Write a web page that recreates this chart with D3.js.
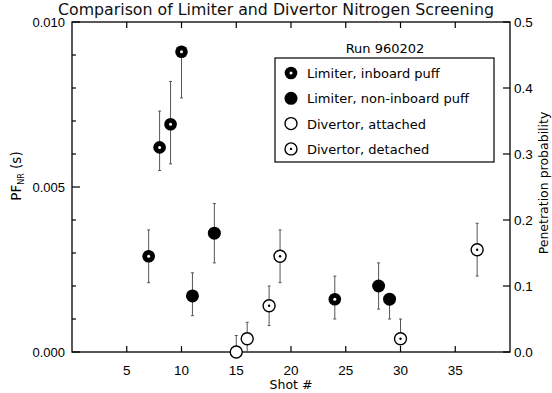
<!DOCTYPE html>
<html><head><meta charset="utf-8">
<script src="https://cdn.jsdelivr.net/npm/d3@7"></script>
<style>
body{margin:0;background:#fff;}
svg{font-family:"Liberation Sans",Arial,sans-serif;}
.lbl{font-family:"DejaVu Sans",sans-serif;}
</style></head>
<body><div id="chart"></div>
<script>
// values (left axis units, seconds)
const inboardShots=[7,8,9,10,24];
const inboardVal=[0.0029,0.0062,0.0069,0.0091,0.0016];
const inboardLo=[0.0021,0.0055,0.0057,0.0077,0.0010];
const inboardHi=[0.0037,0.0073,0.0082,0.0092,0.0023];

const nonInboardShots=[11,13,28,29];
const nonInboardVal=[0.0017,0.0036,0.0020,0.0016];
const nonInboardLo=[0.0011,0.0027,0.0013,0.0010];
const nonInboardHi=[0.0024,0.0045,0.0027,0.0017];

const attachedShots=[15,16];
const attachedVal=[0.0000,0.0004];
const attachedLo=[0.0000,0.0000];
const attachedHi=[0.0005,0.0009];

const detachedShots=[18,19,30,37];
const detachedVal=[0.0014,0.0029,0.0004,0.0031];
const detachedLo=[0.0008,0.0021,0.0003,0.0023];
const detachedHi=[0.0020,0.0037,0.0010,0.0039];

const xTicks=[5,10,15,20,25,30,35];
const yTicksMajor=[0,0.005,0.010];
const yTicksMinor=[0.001,0.002,0.003,0.004,0.006,0.007,0.008,0.009];
const rTicks=[0,0.1,0.2,0.3,0.4,0.5];

const series=[
  {name:'Limiter, inboard puff',kind:'inboard',shots:inboardShots,val:inboardVal,lo:inboardLo,hi:inboardHi},
  {name:'Limiter, non-inboard puff',kind:'filled',shots:nonInboardShots,val:nonInboardVal,lo:nonInboardLo,hi:nonInboardHi},
  {name:'Divertor, attached',kind:'open',shots:attachedShots,val:attachedVal,lo:attachedLo,hi:attachedHi},
  {name:'Divertor, detached',kind:'dot',shots:detachedShots,val:detachedVal,lo:detachedLo,hi:detachedHi}
];

const W=552,H=393,m={t:22,r:42,b:41,l:72};
const w=W-m.l-m.r,h=H-m.t-m.b;
const svg=d3.select('#chart').append('svg').attr('width',W).attr('height',H);
const g=svg.append('g').attr('transform',`translate(${m.l},${m.t})`);

const x=d3.scaleLinear().domain([0,40]).range([0,w]);
const y=d3.scaleLinear().domain([0,0.010]).range([h,0]);
const yR=d3.scaleLinear().domain([0,0.5]).range([h,0]);

// title
svg.append('text').attr('class','lbl').attr('x',276).attr('y',15).attr('text-anchor','middle').attr('font-size',15)
  .attr('textLength',436).attr('lengthAdjust','spacingAndGlyphs').attr('fill','#111')
  .text('Comparison of Limiter and Divertor Nitrogen Screening');

// frame
g.append('rect').attr('width',w).attr('height',h).attr('fill','none').attr('stroke','#000').attr('stroke-width',1.3);

// x ticks bottom + top (inward)
g.selectAll('.xt').data(xTicks).join('line').attr('class','xt')
  .attr('x1',d=>x(d)).attr('x2',d=>x(d)).attr('y1',h).attr('y2',h-6).attr('stroke','#000').attr('stroke-width',1.2);
g.selectAll('.xtt').data(xTicks).join('line').attr('class','xtt')
  .attr('x1',d=>x(d)).attr('x2',d=>x(d)).attr('y1',0).attr('y2',6).attr('stroke','#000').attr('stroke-width',1.2);
g.selectAll('.xl').data(xTicks).join('text').attr('class','xl')
  .attr('x',d=>x(d)).attr('y',h+23).attr('text-anchor','middle').attr('font-size',13.5).text(d=>d);

// left ticks
g.selectAll('.ytM').data(yTicksMajor).join('line').attr('class','ytM')
  .attr('x1',0).attr('x2',8).attr('y1',d=>y(d)).attr('y2',d=>y(d)).attr('stroke','#000').attr('stroke-width',1.2);
g.selectAll('.ytm').data(yTicksMinor).join('line').attr('class','ytm')
  .attr('x1',0).attr('x2',4).attr('y1',d=>y(d)).attr('y2',d=>y(d)).attr('stroke','#000').attr('stroke-width',1.2);
g.selectAll('.yl').data(yTicksMajor).join('text').attr('class','yl')
  .attr('x',-7).attr('y',d=>y(d)+5).attr('text-anchor','end').attr('font-size',13).text(d=>d.toFixed(3));

// right ticks
g.selectAll('.rt').data(rTicks).join('line').attr('class','rt')
  .attr('x1',w).attr('x2',w-7).attr('y1',d=>yR(d)).attr('y2',d=>yR(d)).attr('stroke','#000').attr('stroke-width',1.2);
g.selectAll('.rl').data(rTicks).join('text').attr('class','rl')
  .attr('x',w+4).attr('y',d=>yR(d)+5).attr('font-size',13.5).text(d=>d.toFixed(1));

// axis titles
svg.append('text').attr('class','lbl').attr('x',m.l+w/2).attr('y',389).attr('text-anchor','middle').attr('font-size',12.5).text('Shot #');
const yl=svg.append('text').attr('class','lbl').attr('transform','translate(21,176) rotate(-90)').attr('text-anchor','middle').attr('font-size',13.5);
yl.append('tspan').text('PF');
yl.append('tspan').attr('font-size',8).attr('dy',3).text('NR');
yl.append('tspan').attr('dy',-3).text(' (s)');
svg.append('text').attr('class','lbl').attr('transform','translate(548,183) rotate(-90)').attr('text-anchor','middle').attr('font-size',12.5).text('Penetration probability');

// markers
function marker(sel,kind){
  if(kind==='inboard'){
    sel.append('circle').attr('r',6.3).attr('fill','#000');
    sel.append('circle').attr('r',1.5).attr('fill','#fff');
  }else if(kind==='filled'){
    sel.append('circle').attr('r',6.5).attr('fill','#000');
  }else if(kind==='open'){
    sel.append('circle').attr('r',6).attr('fill','#fff').attr('stroke','#000').attr('stroke-width',1.4);
  }else{
    sel.append('circle').attr('r',6).attr('fill','#fff').attr('stroke','#000').attr('stroke-width',1.4);
    sel.append('circle').attr('r',1.2).attr('fill','#000');
  }
}

// error bars then points
series.forEach(s=>{
  const pts=s.shots.map((sh,i)=>({shot:sh,v:s.val[i],lo:s.lo[i],hi:s.hi[i]}));
  const eb=g.append('g');
  eb.selectAll('line.v').data(pts).join('line').attr('class','v')
    .attr('x1',d=>x(d.shot)).attr('x2',d=>x(d.shot)).attr('y1',d=>y(d.lo)).attr('y2',d=>y(d.hi))
    .attr('stroke','#555').attr('stroke-width',1);
  eb.selectAll('line.c1').data(pts).join('line').attr('class','c1')
    .attr('x1',d=>x(d.shot)-1.5).attr('x2',d=>x(d.shot)+1.5).attr('y1',d=>y(d.lo)).attr('y2',d=>y(d.lo))
    .attr('stroke','#555').attr('stroke-width',1);
  eb.selectAll('line.c2').data(pts).join('line').attr('class','c2')
    .attr('x1',d=>x(d.shot)-1.5).attr('x2',d=>x(d.shot)+1.5).attr('y1',d=>y(d.hi)).attr('y2',d=>y(d.hi))
    .attr('stroke','#555').attr('stroke-width',1);
});
series.forEach(s=>{
  s.shots.forEach((sh,i)=>{
    const p=g.append('g').attr('transform',`translate(${x(sh)},${y(s.val[i])})`);
    marker(p,s.kind);
  });
});

// legend
svg.append('text').attr('class','lbl').attr('x',385).attr('y',53).attr('text-anchor','middle').attr('font-size',13).text('Run 960202');
svg.append('rect').attr('x',275).attr('y',58).attr('width',219).attr('height',104).attr('fill','#fff').attr('stroke','#000').attr('stroke-width',1.2);
series.forEach((s,i)=>{
  const ly=73+i*25.3;
  const p=svg.append('g').attr('transform',`translate(291,${ly})`);
  marker(p,s.kind);
  svg.append('text').attr('class','lbl').attr('x',307).attr('y',ly+5).attr('font-size',13).text(s.name);
});
</script>
</body></html>
